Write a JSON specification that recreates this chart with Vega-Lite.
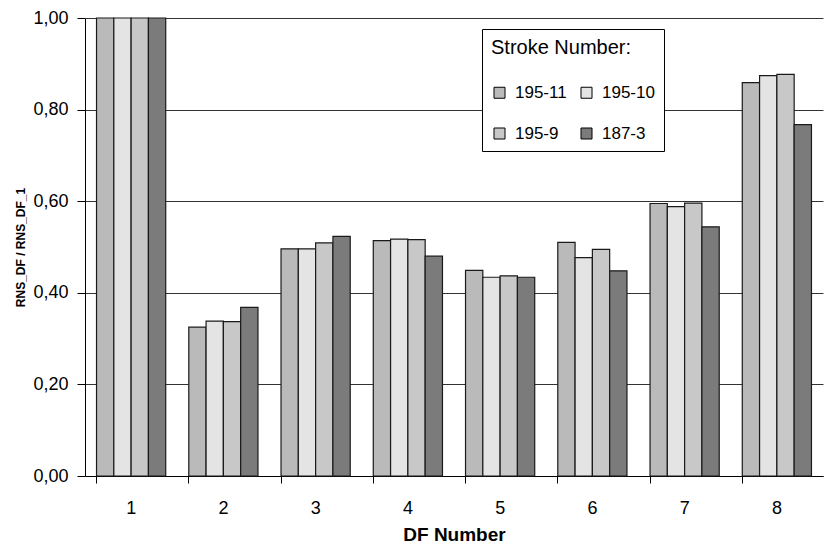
{
  "$schema": "https://vega.github.io/schema/vega-lite/v6.json",
  "width": 738,
  "height": 458,
  "autosize": {"type": "none"},
  "padding": {"left": 85, "top": 18, "right": 3, "bottom": 73},
  "background": "white",
  "config": {
    "font": "Liberation Sans",
    "view": {"stroke": null},
    "axis": {"labelFont": "Liberation Sans", "titleFont": "Liberation Sans", "labelColor": "black", "titleColor": "black"},
    "legend": {"labelFont": "Liberation Sans", "titleFont": "Liberation Sans"}
  },
  "data": {
    "values": [
      {"df": "1", "stroke": "195-11", "v": 1.0},
      {"df": "1", "stroke": "195-10", "v": 1.0},
      {"df": "1", "stroke": "195-9", "v": 1.0},
      {"df": "1", "stroke": "187-3", "v": 1.0},
      {"df": "2", "stroke": "195-11", "v": 0.325},
      {"df": "2", "stroke": "195-10", "v": 0.338},
      {"df": "2", "stroke": "195-9", "v": 0.337},
      {"df": "2", "stroke": "187-3", "v": 0.368},
      {"df": "3", "stroke": "195-11", "v": 0.496},
      {"df": "3", "stroke": "195-10", "v": 0.496},
      {"df": "3", "stroke": "195-9", "v": 0.509},
      {"df": "3", "stroke": "187-3", "v": 0.523},
      {"df": "4", "stroke": "195-11", "v": 0.514},
      {"df": "4", "stroke": "195-10", "v": 0.517},
      {"df": "4", "stroke": "195-9", "v": 0.516},
      {"df": "4", "stroke": "187-3", "v": 0.48},
      {"df": "5", "stroke": "195-11", "v": 0.449},
      {"df": "5", "stroke": "195-10", "v": 0.434},
      {"df": "5", "stroke": "195-9", "v": 0.437},
      {"df": "5", "stroke": "187-3", "v": 0.434},
      {"df": "6", "stroke": "195-11", "v": 0.51},
      {"df": "6", "stroke": "195-10", "v": 0.477},
      {"df": "6", "stroke": "195-9", "v": 0.495},
      {"df": "6", "stroke": "187-3", "v": 0.448},
      {"df": "7", "stroke": "195-11", "v": 0.595},
      {"df": "7", "stroke": "195-10", "v": 0.588},
      {"df": "7", "stroke": "195-9", "v": 0.596},
      {"df": "7", "stroke": "187-3", "v": 0.544},
      {"df": "8", "stroke": "195-11", "v": 0.859},
      {"df": "8", "stroke": "195-10", "v": 0.874},
      {"df": "8", "stroke": "195-9", "v": 0.877},
      {"df": "8", "stroke": "187-3", "v": 0.767}
    ]
  },
  "mark": {"type": "bar", "stroke": "#1a1a1a", "strokeWidth": 1.2},
  "encoding": {
    "x": {
      "field": "df",
      "type": "nominal",
      "scale": {"paddingInner": 0.25, "paddingOuter": 0.125},
      "axis": {
        "title": "DF Number",
        "titleFontSize": 19,
        "titleFontWeight": "bold",
        "titlePadding": 8,
        "labelFontSize": 18,
        "labelAngle": 0,
        "labelPadding": 16,
        "bandPosition": 0,
        "ticks": true,
        "tickSize": 7,
        "tickColor": "black",
        "domainColor": "black",
        "grid": false
      }
    },
    "xOffset": {
      "field": "stroke",
      "type": "nominal",
      "sort": ["195-11", "195-10", "195-9", "187-3"],
      "scale": {"paddingInner": 0, "paddingOuter": 0}
    },
    "y": {
      "field": "v",
      "type": "quantitative",
      "scale": {"domain": [0, 1], "nice": false},
      "axis": {
        "title": "RNS_DF / RNS_DF_1",
        "titleFontSize": 12,
        "titleFontWeight": "bold",
        "titlePadding": 5,
        "labelFontSize": 18,
        "labelPadding": 9,
        "values": [0, 0.2, 0.4, 0.6, 0.8, 1.0],
        "labelExpr": "replace(format(datum.value, '.2f'), '.', ',')",
        "tickSize": 8,
        "tickColor": "black",
        "domainColor": "black",
        "grid": true,
        "gridColor": "#333333",
        "gridWidth": 1
      }
    },
    "color": {
      "field": "stroke",
      "type": "nominal",
      "sort": ["195-11", "195-9", "195-10", "187-3"],
      "scale": {
        "domain": ["195-11", "195-9", "195-10", "187-3"],
        "range": ["#bababa", "#c8c8c8", "#e4e4e4", "#7b7b7b"]
      },
      "legend": {
        "title": "Stroke Number:",
        "orient": "none",
        "legendX": 397,
        "legendY": 11,
        "columns": 2,
        "columnPadding": 11,
        "rowPadding": 23,
        "titleFontSize": 20,
        "titleFontWeight": "normal",
        "titlePadding": 26,
        "titleColor": "black",
        "labelFontSize": 17,
        "labelColor": "black",
        "labelOffset": 7,
        "symbolType": "square",
        "symbolSize": 121,
        "symbolStrokeColor": "black",
        "symbolStrokeWidth": 1,
        "symbolOpacity": 1,
        "strokeColor": "black",
        "padding": 9,
        "fillColor": "white"
      }
    }
  }
}
